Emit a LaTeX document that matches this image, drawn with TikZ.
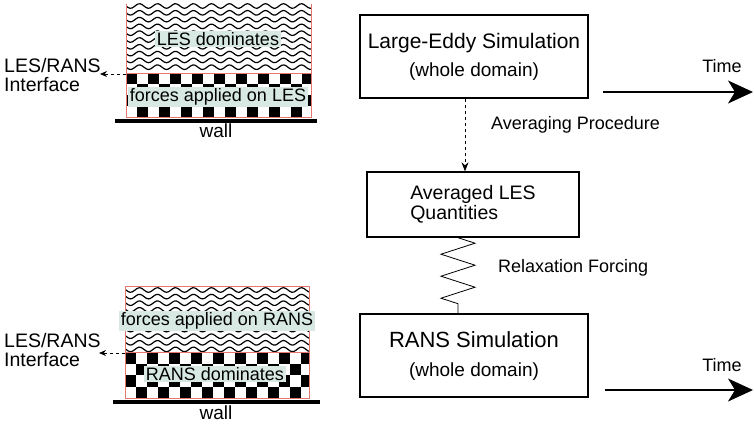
\documentclass[tikz,border=0pt]{standalone}
\usepackage{fontspec}
\setmainfont{Liberation Sans}
\usepackage{tikz}
\usetikzlibrary{arrows,arrows.meta,positioning,decorations.pathmorphing}
\definecolor{labelbg}{RGB}{215,233,226}
\definecolor{edgered}{RGB}{228,120,110}
\tikzset{
  simbox/.style={draw, line width=1.4pt, minimum width=228pt, minimum height=83pt, align=center, inner sep=0pt},
  tagbox/.style={fill=labelbg, inner sep=1.5pt, font=\fontsize{18}{20}\selectfont},
  plaintext/.style={inner sep=0pt, font=\fontsize{18}{20}\selectfont},
  timearrow/.style={line width=1.6pt, -{Stealth[length=25pt,width=23pt,inset=7pt]}},
  ifacearrow/.style={dashed, line width=0.8pt, -{Stealth[length=7pt,width=6pt]}},
  wavepen/.style={line width=1.2pt},
}
\begin{document}
\begin{tikzpicture}[x=1pt,y=-1pt]
    \useasboundingbox (0,0) rectangle (754,424);
    % Draw the waves of the upper (LES) sketch
    \begin{scope}
      \clip (126,2) rectangle (311,73);
      \foreach \r in {0,...,9}{
        \draw[wavepen] plot[domain=120:320, samples=100, smooth] (\x, {6+\r*6.8+2.3*sin(20*\x)});
      }
    \end{scope}
    % Draw the checker board near the upper wall
    \begin{scope}
      \clip (126,73) rectangle (311,117);
      \foreach \i in {0,2,...,16}{
        \foreach \j in {0,2}{
          \fill (126+\i*11, 73+\j*11) rectangle ++(11,11);
          \fill (137+\i*11, 84+\j*11) rectangle ++(11,11);
        }
      }
    \end{scope}
    \draw[edgered, line width=0.8pt] (126,4) -- (126,73) -- (311,73) -- (311,4);
    \draw[edgered, line width=0.8pt] (126,73) rectangle (311,117);
    \draw[line width=4pt] (115,121) -- (317,121);
    \node[plaintext, font=\fontsize{19}{20}\selectfont] (wallA) at (216,131) {wall};
    \node[tagbox] (lesdom) at (218,39) {LES dominates};
    \node[tagbox] (forcesA) at (218,97) {forces applied on LES};
    % Draw the waves of the lower (RANS) sketch
    \begin{scope}
      \clip (125,286) rectangle (309,352);
      \foreach \r in {0,...,9}{
        \draw[wavepen] plot[domain=120:320, samples=100, smooth] (\x, {290+\r*6.6+2.3*sin(20*\x)});
      }
    \end{scope}
    % Draw the checker board near the lower wall
    \begin{scope}
      \clip (125,352) rectangle (309,398);
      \foreach \i in {0,2,...,16}{
        \foreach \j in {0,2}{
          \fill (125+\i*11, 352+\j*11.5) rectangle ++(11,11.5);
          \fill (136+\i*11, 363.5+\j*11.5) rectangle ++(11,11.5);
        }
      }
    \end{scope}
    \draw[edgered, line width=0.8pt] (125,286) rectangle (309,352);
    \draw[edgered, line width=0.8pt] (125,352) rectangle (309,398);
    \draw[line width=4pt] (113,402) -- (320,402);
    \node[plaintext, font=\fontsize{19}{20}\selectfont] (wallB) at (216,413) {wall};
    \node[tagbox] (forcesB) at (217,321) {forces applied on RANS};
    \node[tagbox] (ransdom) at (215,374) {RANS dominates};
    % Interface labels
    \node[plaintext, anchor=west, align=left, font=\fontsize{19.5}{19}\selectfont] (ifaceA) at (4,75) {LES/RANS\\Interface};
    \node[plaintext, anchor=west, align=left, font=\fontsize{19.5}{19}\selectfont] (ifaceB) at (4,350) {LES/RANS\\Interface};
    \coordinate (ifA) at (126,74);
    \coordinate (ifAend) at (100,74);
    \coordinate (ifB) at (125,353);
    \coordinate (ifBend) at (99,353);
    \draw[ifacearrow] (ifA) -- (ifAend);
    \draw[ifacearrow] (ifB) -- (ifBend);
    % Simulation boxes
    \node[simbox, font=\fontsize{19}{28}\selectfont] (les) at (474,56.5) {{\fontsize{21}{28}\selectfont Large-Eddy Simulation}\\(whole domain)};
    \node[simbox, minimum width=212pt, minimum height=65pt, align=left, font=\fontsize{19.5}{20}\selectfont] (avg) at (473,204.5) {Averaged LES\\Quantities};
    \node[simbox, font=\fontsize{19}{29}\selectfont] (rans) at (474,355.5) {{\fontsize{22}{29}\selectfont RANS Simulation}\\(whole domain)};
    % Connectors
    \draw[dashed, line width=0.7pt, -{Stealth[length=9pt,width=7pt]}] ([xshift=-9pt]les.south) -- ([xshift=-8pt]avg.north);
    \node[plaintext, anchor=west] (avgproc) at (491,125) {Averaging Procedure};
    \draw[line width=0.8pt, decorate, decoration={zigzag, segment length=22pt, amplitude=17pt}] ([xshift=-15pt]avg.south) -- ([xshift=-16pt]rans.north);
    \node[plaintext, anchor=west] (relax) at (498,268) {Relaxation Forcing};
    % Time arrows
    \coordinate (tAs) at (603,92);
    \coordinate (tAe) at (753,92);
    \coordinate (tBs) at (605,390);
    \coordinate (tBe) at (753,390);
    \draw[timearrow] (tAs) -- (tAe);
    \draw[timearrow] (tBs) -- (tBe);
    \node[plaintext] (timeA) at (722,66) {Time};
    \node[plaintext] (timeB) at (722,365) {Time};
\end{tikzpicture}
\end{document}
